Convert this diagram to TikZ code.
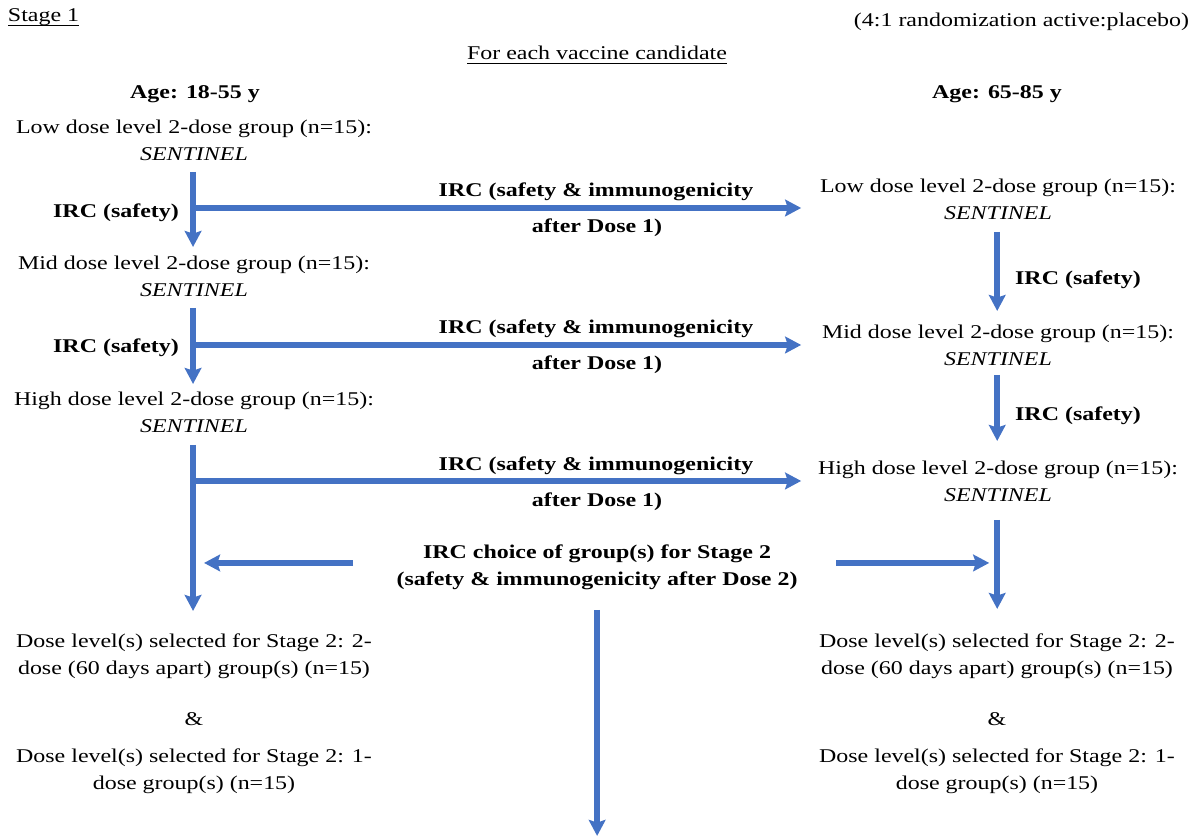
\documentclass[tikz,border=0pt]{standalone}
\usepackage{fontspec}
\setmainfont{Liberation Serif}
\usetikzlibrary{arrows.meta}
\definecolor{arrowblue}{HTML}{4472C4}
\begin{document}
\begin{tikzpicture}[x=0.6098pt, y=-0.75pt, xscale=1.23,
  every node/.style={transform shape, inner sep=0pt, outer sep=0pt, align=center,
    font=\fontsize{14.6pt}{20.25pt}\selectfont, anchor=base},
  boldtxt/.style={font=\fontsize{14.6pt}{20.25pt}\selectfont\bfseries},
  flow/.style={draw=arrowblue, line width=4.5pt, -{Stealth[length=12pt,width=12.5pt,inset=2pt]}},
  uline/.style={line width=1.1pt},
]
\useasboundingbox (0,0) rectangle (1199,837);

% headers
\node[anchor=base west] (stage) at (8,22) {Stage 1};
\draw[uline] ([yshift=-2.6pt]stage.base west) -- ([yshift=-2.6pt]stage.base east);
\node[anchor=base east] (rand) at (1189,27) {(4:1 randomization active:placebo)};
\node (foreach) at (597,60) {For each vaccine candidate};
\draw[uline] ([yshift=-2.6pt]foreach.base west) -- ([yshift=-2.6pt]foreach.base east);
\node[boldtxt] (ageL) at (195,99) {Age: 18-55 y};
\node[boldtxt] (ageR) at (997,99) {Age: 65-85 y};

% left column (base = baseline of the last line)
\node (lowL) at (194,161) {Low dose level 2-dose group (n=15):\\\textit{SENTINEL}};
\node (midL) at (194,297) {Mid dose level 2-dose group (n=15):\\\textit{SENTINEL}};
\node (highL) at (194,433) {High dose level 2-dose group (n=15):\\\textit{SENTINEL}};
\node[boldtxt] (ircL1) at (116,218) {IRC (safety)};
\node[boldtxt] (ircL2) at (116,353) {IRC (safety)};
\node (selL1) at (194,675) {Dose level(s) selected for Stage 2: 2-\\dose (60 days apart) group(s) (n=15)};
\node (ampL) at (194,726) {\&};
\node (selL2) at (194,790) {Dose level(s) selected for Stage 2: 1-\\dose group(s) (n=15)};

% right column
\node (lowR) at (998,220) {Low dose level 2-dose group (n=15):\\\textit{SENTINEL}};
\node (midR) at (998,366) {Mid dose level 2-dose group (n=15):\\\textit{SENTINEL}};
\node (highR) at (998,502) {High dose level 2-dose group (n=15):\\\textit{SENTINEL}};
\node[boldtxt] (ircR1) at (1078,285) {IRC (safety)};
\node[boldtxt] (ircR2) at (1078,421) {IRC (safety)};
\node (selR1) at (997,675) {Dose level(s) selected for Stage 2: 2-\\dose (60 days apart) group(s) (n=15)};
\node (ampR) at (997,726) {\&};
\node (selR2) at (997,790) {Dose level(s) selected for Stage 2: 1-\\dose group(s) (n=15)};

% middle labels
\node[boldtxt] (imm1) at (596,197) {IRC (safety \& immunogenicity};
\node[boldtxt] (aft1) at (597,233) {after Dose 1)};
\node[boldtxt] (imm2) at (596,334) {IRC (safety \& immunogenicity};
\node[boldtxt] (aft2) at (597,370) {after Dose 1)};
\node[boldtxt] (imm3) at (596,471) {IRC (safety \& immunogenicity};
\node[boldtxt] (aft3) at (597,507) {after Dose 1)};
\node[boldtxt] (choice) at (597,586) {IRC choice of group(s) for Stage 2\\(safety \& immunogenicity after Dose 2)};

% arrow coordinates
\coordinate (l1s) at (193,172); \coordinate (l1e) at (193,247);
\coordinate (h1s) at (193,208); \coordinate (h1e) at (801,208);
\coordinate (l2s) at (193,308); \coordinate (l2e) at (193,384);
\coordinate (h2s) at (193,345); \coordinate (h2e) at (801,345);
\coordinate (l3s) at (193,445); \coordinate (l3e) at (193,611);
\coordinate (h3s) at (193,481); \coordinate (h3e) at (801,481);
\coordinate (cls) at (353,563); \coordinate (cle) at (204,563);
\coordinate (crs) at (836,563); \coordinate (cre) at (989,563);
\coordinate (cds) at (597,610); \coordinate (cde) at (597,836);
\coordinate (r1s) at (997,232); \coordinate (r1e) at (997,311);
\coordinate (r2s) at (997,375); \coordinate (r2e) at (997,441);
\coordinate (r3s) at (997,520); \coordinate (r3e) at (997,609);

\draw[flow] (l1s) -- (l1e);
\draw[flow] (h1s) -- (h1e);
\draw[flow] (l2s) -- (l2e);
\draw[flow] (h2s) -- (h2e);
\draw[flow] (l3s) -- (l3e);
\draw[flow] (h3s) -- (h3e);
\draw[flow] (cls) -- (cle);
\draw[flow] (crs) -- (cre);
\draw[flow] (cds) -- (cde);
\draw[flow] (r1s) -- (r1e);
\draw[flow] (r2s) -- (r2e);
\draw[flow] (r3s) -- (r3e);
\end{tikzpicture}
\end{document}
